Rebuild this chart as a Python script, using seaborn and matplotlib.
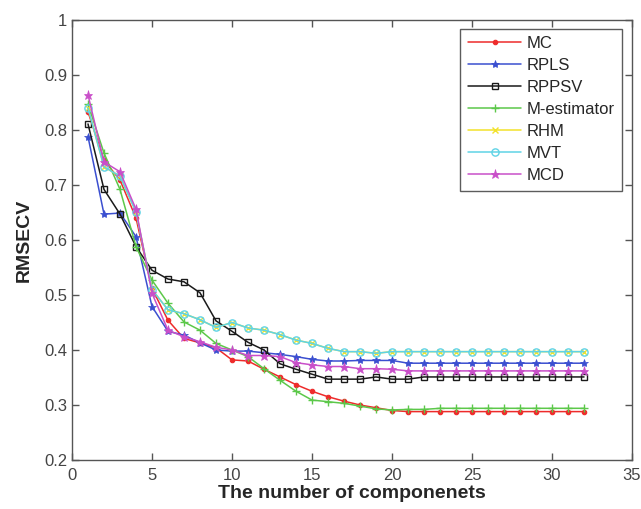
import numpy as np
import pandas as pd
import matplotlib
matplotlib.use("Agg")
import matplotlib.pyplot as plt
import seaborn as sns

components = list(range(1, 33))

mc = [0.833, 0.745, 0.709, 0.640, 0.512, 0.454, 0.421, 0.413, 0.404, 0.382,
      0.380, 0.365, 0.351, 0.337, 0.325, 0.315, 0.307, 0.300, 0.295, 0.290] + [0.288] * 12
rpls = [0.788, 0.647, 0.649, 0.606, 0.479, 0.434, 0.427, 0.413, 0.400, 0.398,
        0.398, 0.395, 0.392, 0.388, 0.383, 0.380, 0.380, 0.381, 0.381, 0.381] + [0.376] * 12
rppsv = [0.811, 0.692, 0.647, 0.588, 0.545, 0.529, 0.524, 0.504, 0.453, 0.434,
         0.414, 0.400, 0.375, 0.365, 0.356, 0.347, 0.347, 0.347, 0.351, 0.347,
         0.347] + [0.351] * 11
m_estimator = [0.847, 0.758, 0.692, 0.588, 0.527, 0.485, 0.451, 0.436, 0.412, 0.400,
               0.388, 0.366, 0.345, 0.325, 0.309, 0.306, 0.303, 0.298, 0.293, 0.291,
               0.292, 0.292] + [0.294] * 10
rhm = [0.840, 0.733, 0.716, 0.651, 0.510, 0.473, 0.466, 0.455, 0.441, 0.450,
       0.440, 0.436, 0.428, 0.418, 0.412, 0.403, 0.397, 0.397, 0.394] + [0.397] * 13
mvt = [0.840, 0.733, 0.716, 0.651, 0.510, 0.473, 0.466, 0.455, 0.441, 0.450,
       0.440, 0.436, 0.428, 0.418, 0.412, 0.403, 0.397, 0.397, 0.394] + [0.397] * 13
mcd = [0.864, 0.742, 0.724, 0.656, 0.503, 0.436, 0.424, 0.415, 0.405, 0.400,
       0.390, 0.390, 0.388, 0.377, 0.373, 0.370, 0.370, 0.366, 0.366, 0.365] + [0.362] * 12

series_names = ["MC", "RPLS", "RPPSV", "M-estimator", "RHM", "MVT", "MCD"]
series_values = [mc, rpls, rppsv, m_estimator, rhm, mvt, mcd]

xticks = [0, 5, 10, 15, 20, 25, 30, 35]
yticks = [0.2, 0.3, 0.4, 0.5, 0.6, 0.7, 0.8, 0.9, 1.0]
ytick_labels = ["0.2", "0.3", "0.4", "0.5", "0.6", "0.7", "0.8", "0.9", "1"]

styles = {
    "MC":          dict(color="#ee2b2b", marker="o", ms=3.2, mfc="#ee2b2b", mew=0.8),
    "RPLS":        dict(color="#3b4fd0", marker="*", ms=6, mfc="#3b4fd0", mew=0.5),
    "RPPSV":       dict(color="#1a1a1a", marker="s", ms=4.5, mfc="none", mew=1.0),
    "M-estimator": dict(color="#5cc84a", marker="+", ms=5.5, mfc="#5cc84a", mew=1.0),
    "RHM":         dict(color="#f2e22a", marker="x", ms=4.5, mfc="#f2e22a", mew=1.0),
    "MVT":         dict(color="#5fd3e6", marker="o", ms=5.2, mfc="none", mew=1.0),
    "MCD":         dict(color="#c94fc9", marker="*", ms=6.5, mfc="#c94fc9", mew=0.5),
}

sns.set_style("white")
plt.rcParams["font.family"] = ["Liberation Sans", "DejaVu Sans"]

fig = plt.figure(figsize=(6.41, 5.09), dpi=100)
ax = fig.add_axes([72 / 641, 1 - 460 / 509, 560 / 641, 440 / 509])

for name, vals in zip(series_names, series_values):
    st = styles[name]
    df = pd.DataFrame({"x": components, "y": vals})
    sns.lineplot(data=df, x="x", y="y", ax=ax, color=st["color"], linewidth=1.1,
                 marker=st["marker"], markersize=st["ms"], markerfacecolor=st["mfc"],
                 markeredgecolor=st["color"], markeredgewidth=st["mew"], label=name)

ax.set_xlim(0, 35)
ax.set_ylim(0.2, 1.0)
ax.set_xticks(xticks)
ax.set_yticks(yticks)
ax.set_yticklabels(ytick_labels)
ax.tick_params(direction="in", length=5, width=1, color="#555555",
               labelsize=12, labelcolor="#444444", top=True, right=True,
               bottom=True, left=True)
ax.tick_params(axis="x", pad=6)
for sp in ax.spines.values():
    sp.set_visible(True)
    sp.set_color("#555555")
    sp.set_linewidth(1.0)

ax.set_xlabel("The number of componenets", fontsize=14, fontweight="bold", labelpad=1)
ax.set_ylabel("RMSECV", fontsize=14, fontweight="bold", labelpad=8)

leg = ax.legend(loc="upper right", bbox_to_anchor=(0.982, 0.98), borderaxespad=0,
                fontsize=12, frameon=True, fancybox=False, edgecolor="#333333",
                handlelength=3.2, labelspacing=0.42, handletextpad=0.3,
                borderpad=0.45)
leg.get_frame().set_linewidth(1.0)

fig.savefig("out.png", dpi=100)
